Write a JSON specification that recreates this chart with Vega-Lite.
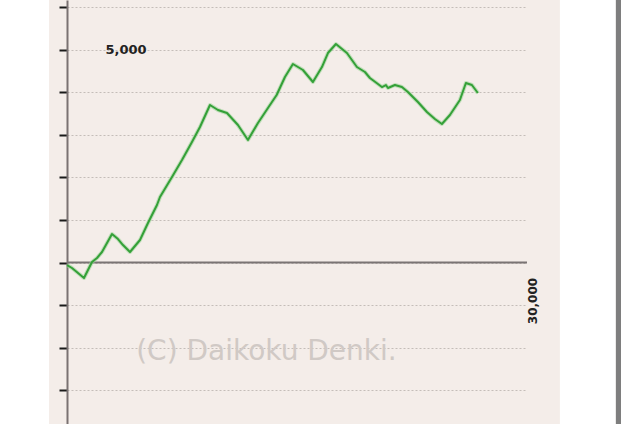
{
  "$schema": "https://vega.github.io/schema/vega-lite/v6.json",
  "width": 460,
  "height": 424,
  "autosize": {"type": "none"},
  "padding": {"left": 67, "top": 0, "right": 94, "bottom": 0},
  "background": "#f4ede9",
  "config": {"view": {"stroke": null}},
  "datasets": {
    "slump": [
      {"games": 0, "diff": -59}, {"games": 326, "diff": -129}, {"games": 1108, "diff": -364},
      {"games": 1630, "diff": 12}, {"games": 1956, "diff": 106}, {"games": 2282, "diff": 247},
      {"games": 2934, "diff": 670}, {"games": 3325, "diff": 552}, {"games": 3651, "diff": 411},
      {"games": 4108, "diff": 247}, {"games": 4760, "diff": 529}, {"games": 5281, "diff": 928},
      {"games": 5868, "diff": 1351}, {"games": 6064, "diff": 1539}, {"games": 6847, "diff": 2009},
      {"games": 7499, "diff": 2409}, {"games": 8150, "diff": 2832}, {"games": 8672, "diff": 3184},
      {"games": 9324, "diff": 3701}, {"games": 9846, "diff": 3584}, {"games": 10432, "diff": 3513},
      {"games": 11149, "diff": 3231}, {"games": 11801, "diff": 2879}, {"games": 12453, "diff": 3278},
      {"games": 13105, "diff": 3631}, {"games": 13672, "diff": 3936}, {"games": 14214, "diff": 4359},
      {"games": 14735, "diff": 4665}, {"games": 15387, "diff": 4524}, {"games": 16039, "diff": 4242},
      {"games": 16626, "diff": 4594}, {"games": 17017, "diff": 4923}, {"games": 17539, "diff": 5135},
      {"games": 18256, "diff": 4923}, {"games": 18908, "diff": 4594}, {"games": 19430, "diff": 4477},
      {"games": 19756, "diff": 4336}, {"games": 20193, "diff": 4218}, {"games": 20538, "diff": 4124},
      {"games": 20799, "diff": 4171}, {"games": 20930, "diff": 4101}, {"games": 21386, "diff": 4171},
      {"games": 21843, "diff": 4124}, {"games": 22234, "diff": 4006}, {"games": 22886, "diff": 3772},
      {"games": 23473, "diff": 3537}, {"games": 23994, "diff": 3372}, {"games": 24451, "diff": 3255},
      {"games": 24972, "diff": 3466}, {"games": 25624, "diff": 3819}, {"games": 26015, "diff": 4218},
      {"games": 26406, "diff": 4171}, {"games": 26797, "diff": 3983}
    ],
    "panels": [
      {"part": "left margin", "x1": -6000, "x2": -1174, "y1": -6000, "y2": 8000},
      {"part": "right margin", "x1": 32144, "x2": 35795, "y1": -6000, "y2": 8000},
      {"part": "frame", "x1": 35795, "x2": 38000, "y1": -6000, "y2": 8000}
    ]
  },
  "layer": [
    {
      "data": {"name": "panels"},
      "mark": {"type": "rect"},
      "encoding": {
        "x": {"field": "x1", "type": "quantitative", "scale": {"domain": [0, 30000], "nice": false, "zero": false}, "axis": null},
        "x2": {"field": "x2"},
        "y": {"field": "y1", "type": "quantitative", "scale": {"domain": [-3795, 6169], "nice": false, "zero": false},
          "axis": {
            "orient": "left", "values": [-3000, -2000, -1000, 0, 1000, 2000, 3000, 4000, 5000, 6000],
            "labels": false, "title": null, "tickSize": 8, "tickWidth": 2, "tickColor": "#1a1a1a",
            "domainColor": "#7a7272", "domainWidth": 2,
            "grid": true, "gridColor": "#c4bdb8", "gridDash": [2, 2], "gridWidth": 1
          }},
        "y2": {"field": "y2"},
        "color": {"field": "part", "type": "nominal", "scale": {"domain": ["left margin", "right margin", "frame"], "range": ["#ffffff", "#ffffff", "#7e7e7e"]}, "legend": null}
      }
    },
    {
      "data": {"values": [{"games": 13007, "diff": -2103, "text": "(C) Daikoku Denki."}]},
      "mark": {"type": "text", "font": "DejaVu Sans", "fontSize": 28, "color": "#d0c9c5", "align": "center", "baseline": "middle"},
      "encoding": {
        "x": {"field": "games", "type": "quantitative"},
        "y": {"field": "diff", "type": "quantitative"},
        "text": {"field": "text"}
      }
    },
    {
      "data": {"values": [{"from": 0, "to": 30000, "diff": 0}]},
      "mark": {"type": "rule", "color": "#7a7474", "strokeWidth": 2},
      "encoding": {
        "x": {"field": "from", "type": "quantitative"},
        "x2": {"field": "to"},
        "y": {"field": "diff", "type": "quantitative"}
      }
    },
    {
      "data": {"name": "slump"},
      "mark": {"type": "line", "color": "#9fd49a", "strokeWidth": 4, "opacity": 0.6, "strokeJoin": "round"},
      "encoding": {
        "x": {"field": "games", "type": "quantitative"},
        "y": {"field": "diff", "type": "quantitative"}
      }
    },
    {
      "data": {"name": "slump"},
      "mark": {"type": "line", "color": "#34a038", "strokeWidth": 2, "strokeJoin": "round"},
      "encoding": {
        "x": {"field": "games", "type": "quantitative"},
        "y": {"field": "diff", "type": "quantitative"}
      }
    },
    {
      "data": {"values": [{"games": 3847, "diff": 5000, "text": "5,000"}]},
      "mark": {"type": "text", "font": "DejaVu Sans", "fontSize": 13, "fontWeight": "bold", "color": "#222222", "align": "center", "baseline": "middle"},
      "encoding": {
        "x": {"field": "games", "type": "quantitative"},
        "y": {"field": "diff", "type": "quantitative"},
        "text": {"field": "text"}
      }
    },
    {
      "data": {"values": [{"games": 30390, "diff": -905, "text": "30,000"}]},
      "mark": {"type": "text", "font": "DejaVu Sans", "fontSize": 12, "fontWeight": "bold", "color": "#222222", "align": "center", "baseline": "middle", "angle": 270},
      "encoding": {
        "x": {"field": "games", "type": "quantitative"},
        "y": {"field": "diff", "type": "quantitative"},
        "text": {"field": "text"}
      }
    }
  ]
}
